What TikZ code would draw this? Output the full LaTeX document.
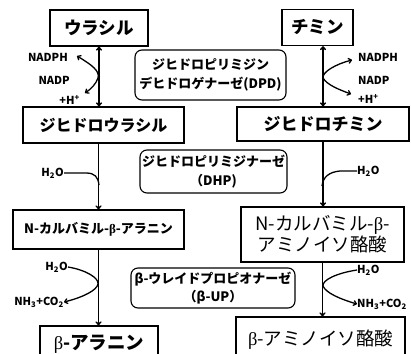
\documentclass[tikz,border=0pt]{standalone}
\usepackage{fontspec}
\setmainfont{Noto Sans CJK JP}
\newfontfamily\serifb{Liberation Serif}
\usetikzlibrary{arrows.meta}
\begin{document}
\begin{tikzpicture}[x=1pt,y=-1pt,
  box/.style={draw, line width=1.4pt, inner sep=0pt, align=center},
  enz/.style={draw, line width=1.1pt, rounded corners=7pt, inner sep=0pt, align=center, font=\bfseries\fontsize{13}{18.5}\selectfont},
  lbl/.style={inner sep=0pt, font=\bfseries\fontsize{11}{12}\selectfont},
  flow/.style={line width=1.5pt, -{To[length=4pt,width=6pt]}},
  flow2/.style={line width=1.5pt, {To[length=4pt,width=6pt]}-{To[length=4pt,width=6pt]}},
  side/.style={line width=1.3pt}]
\path[use as bounding box, clip] (0,0) rectangle (411,353);

% substance boxes
\node[box, minimum width=98pt, minimum height=36pt, font=\bfseries\fontsize{17.5}{20}\selectfont] (u) at (99,28) {ウラシル};
\node[box, minimum width=71pt, minimum height=36pt, font=\bfseries\fontsize{17.5}{20}\selectfont] (t) at (317.5,27.5) {チミン};
\node[box, minimum width=161pt, minimum height=36pt, font=\bfseries\fontsize{16}{18}\selectfont] (du) at (103.5,125) {ジヒドロウラシル};
\node[box, minimum width=172pt, minimum height=34pt, font=\bfseries\fontsize{17}{18}\selectfont] (dt) at (323,124) {ジヒドロチミン};
\node[box, minimum width=171pt, minimum height=39pt, font=\bfseries\fontsize{13}{15}\selectfont] (nc) at (98.5,229.5) {N-カルバミル-{\serifb β}-アラニン};
\node[box, minimum width=163pt, minimum height=55pt, font=\fontsize{18.5}{21}\selectfont] (nt) at (322.5,234.5) {N-カルバミル-{\serifb β}-\\アミノイソ酪酸};
\node[box, minimum width=118pt, minimum height=36pt, font=\bfseries\fontsize{18.5}{21}\selectfont] (ba) at (99,344) {{\serifb\mdseries β}-アラニン};
\node[box, minimum width=169pt, minimum height=46pt, font=\fontsize{18.5}{21}\selectfont] (bm) at (320.5,340) {{\serifb β}-アミノイソ酪酸};

% enzyme boxes
\node[enz, minimum width=151pt, minimum height=50pt] (e1) at (210.5,75) {ジヒドロピリミジン\\デヒドロゲナーゼ(DPD)};
\node[enz, minimum width=147pt, minimum height=43pt] (e2) at (213.5,171.5) {ジヒドロピリミジナーゼ\\（DHP)};
\node[enz, minimum width=164pt, minimum height=40pt] (e3) at (213,288) {β-ウレイドプロピオナーゼ\\（β-UP）};

% main arrows
\draw[flow2] (u.south) -- (u.south |- du.north);
\draw[flow2] (dt.north |- t.south) -- (dt.north);
\draw[flow] (nc.north |- du.south) -- (nc.north);
\draw[flow] (dt.south) -- (dt.south |- nt.north);
\draw[flow] (nc.south) -- (nc.south |- ba.north);
\draw[flow] (nt.south) -- (nt.south |- bm.north);

% side labels left DPD
\node[lbl, anchor=east] (l1) at (68,57) {NADPH};
\node[lbl, anchor=east] (l2) at (70,80) {NADP};
\node[lbl, anchor=east] (l3) at (80,100) {+H\textsuperscript{+}};
\coordinate (la1) at (77,56);
\coordinate (la2) at (85,93);
\draw[side, {To[length=4pt,width=6pt]}-{To[length=4pt,width=6pt]}] (la1) .. controls (92,65) and (100,71) .. (98,78) .. controls (96,84) and (91,89) .. (la2);

% side labels right DPD
\node[lbl, anchor=west] (r1) at (358,57) {NADPH};
\node[lbl, anchor=west] (r2) at (358,80) {NADP};
\node[lbl, anchor=west] (r3) at (358,99) {+H\textsuperscript{+}};
\coordinate (ra1) at (352,60);
\coordinate (ra2) at (351,94);
\draw[side, {To[length=4pt,width=6pt]}-{To[length=4pt,width=6pt]}] (ra1) .. controls (336,64) and (322,72) .. (323,78) .. controls (327,85) and (340,90) .. (ra2);

% DHP water
\node[lbl, anchor=east] (hl) at (64,173) {H\textsubscript{2}O};
\draw[side] (hl.east) -- (86,173) .. controls (95,173) and (98,177) .. (99,185);
\node[lbl, anchor=west] (hr) at (357,171) {H\textsubscript{2}O};
\draw[side] (hr.west) -- (340,171) .. controls (329,172) and (323,177) .. (322,186);

% beta-UP
\node[lbl, anchor=east] (wl) at (68,267) {H\textsubscript{2}O};
\node[lbl, anchor=east] (nl) at (64,302) {NH\textsubscript{3}+CO\textsubscript{2}};
\draw[side, -{To[length=4pt,width=6pt]}] (wl.east) .. controls (86,270) and (99,278) .. (98,284) .. controls (97,290) and (84,297) .. (nl.east);
\node[lbl, anchor=west] (wr) at (357,270) {H\textsubscript{2}O};
\node[lbl, anchor=west] (nr) at (357,304) {NH\textsubscript{3}+CO\textsubscript{2}};
\draw[side, -{To[length=4pt,width=6pt]}] (wr.west) .. controls (337,273) and (322,280) .. (323,286) .. controls (326,293) and (340,299) .. (nr.west);
\end{tikzpicture}
\end{document}
